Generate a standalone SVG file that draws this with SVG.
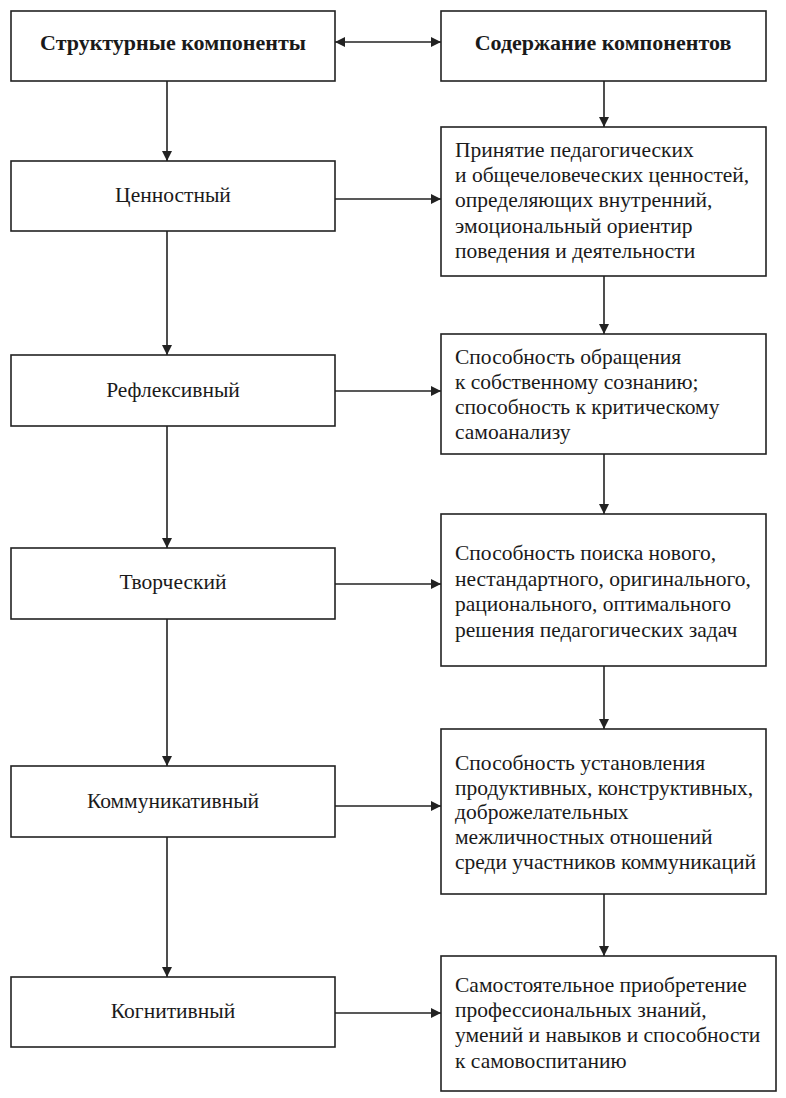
<svg xmlns="http://www.w3.org/2000/svg" width="786" height="1098" viewBox="0 0 786 1098">
<style>
rect{fill:#fff;stroke:#222;stroke-width:1.6}
text{font-family:"Liberation Serif","Times New Roman",serif;font-size:21.5px;fill:#1a1a1a}
.b{font-weight:bold;font-size:22px}
.c{text-anchor:middle}
.cn line{stroke:#222;stroke-width:1.6}
</style>
<defs>
<marker id="ah" viewBox="0 0 10 10" refX="10" refY="5" markerWidth="10" markerHeight="10" markerUnits="userSpaceOnUse" orient="auto-start-reverse">
<path d="M0,0 L10,5 L0,10 Z" fill="#222"/>
</marker>
</defs>
<rect x="0" y="0" width="786" height="1098" style="fill:#fff;stroke:none"/>
<g id="n-struct"><rect x="11" y="11" width="324" height="70"/><text class="c b" x="173" y="50">Структурные компоненты</text></g>
<g id="n-content"><rect x="441" y="11" width="325" height="70"/><text class="c b" x="603" y="50">Содержание компонентов</text></g>
<g id="n-value"><rect x="11" y="161" width="324" height="70"/><text class="c" x="173" y="202">Ценностный</text></g>
<g id="n-reflex"><rect x="11" y="355" width="324" height="71"/><text class="c" x="173" y="397">Рефлексивный</text></g>
<g id="n-creative"><rect x="11" y="548" width="324" height="71"/><text class="c" x="173" y="589">Творческий</text></g>
<g id="n-comm"><rect x="11" y="766" width="324" height="71"/><text class="c" x="173" y="808">Коммуникативный</text></g>
<g id="n-cogn"><rect x="11" y="977" width="324" height="70"/><text class="c" x="173" y="1018">Когнитивный</text></g>
<g id="d-value"><rect x="441" y="127" width="325" height="149"/>
<text x="455"><tspan x="455" y="157">Принятие педагогических</tspan><tspan x="455" y="182">и общечеловеческих ценностей,</tspan><tspan x="455" y="207">определяющих внутренний,</tspan><tspan x="455" y="233">эмоциональный ориентир</tspan><tspan x="455" y="258">поведения и деятельности</tspan></text></g>
<g id="d-reflex"><rect x="441" y="334" width="325" height="120"/>
<text x="455"><tspan x="455" y="364">Способность обращения</tspan><tspan x="455" y="389">к собственному сознанию;</tspan><tspan x="455" y="414">способность к критическому</tspan><tspan x="455" y="439">самоанализу</tspan></text></g>
<g id="d-creative"><rect x="441" y="514" width="325" height="152"/>
<text x="455"><tspan x="455" y="560">Способность поиска нового,</tspan><tspan x="455" y="586">нестандартного, оригинального,</tspan><tspan x="455" y="611">рационального, оптимального</tspan><tspan x="455" y="637">решения педагогических задач</tspan></text></g>
<g id="d-comm"><rect x="441" y="729" width="325" height="165"/>
<text x="455"><tspan x="455" y="770">Способность установления</tspan><tspan x="455" y="795">продуктивных, конструктивных,</tspan><tspan x="455" y="819">доброжелательных</tspan><tspan x="455" y="844">межличностных отношений</tspan><tspan x="455" y="869">среди участников коммуникаций</tspan></text></g>
<g id="d-cogn"><rect x="441" y="956" width="335" height="135"/>
<text x="455"><tspan x="455" y="992">Самостоятельное приобретение</tspan><tspan x="455" y="1017">профессиональных знаний,</tspan><tspan x="455" y="1042">умений и навыков и способности</tspan><tspan x="455" y="1068">к самовоспитанию</tspan></text></g>
<g id="connectors" class="cn">
<line x1="335" y1="42" x2="441" y2="42" marker-start="url(#ah)" marker-end="url(#ah)"/>
<line x1="167" y1="81" x2="167" y2="161" marker-end="url(#ah)"/>
<line x1="167" y1="231" x2="167" y2="355" marker-end="url(#ah)"/>
<line x1="167" y1="426" x2="167" y2="548" marker-end="url(#ah)"/>
<line x1="167" y1="619" x2="167" y2="766" marker-end="url(#ah)"/>
<line x1="167" y1="837" x2="167" y2="977" marker-end="url(#ah)"/>
<line x1="604" y1="81" x2="604" y2="127" marker-end="url(#ah)"/>
<line x1="604" y1="276" x2="604" y2="334" marker-end="url(#ah)"/>
<line x1="604" y1="454" x2="604" y2="514" marker-end="url(#ah)"/>
<line x1="604" y1="666" x2="604" y2="729" marker-end="url(#ah)"/>
<line x1="604" y1="894" x2="604" y2="956" marker-end="url(#ah)"/>
<line x1="335" y1="199" x2="441" y2="199" marker-end="url(#ah)"/>
<line x1="335" y1="391" x2="441" y2="391" marker-end="url(#ah)"/>
<line x1="335" y1="584" x2="441" y2="584" marker-end="url(#ah)"/>
<line x1="335" y1="806" x2="441" y2="806" marker-end="url(#ah)"/>
<line x1="335" y1="1013" x2="441" y2="1013" marker-end="url(#ah)"/>
</g>
</svg>
